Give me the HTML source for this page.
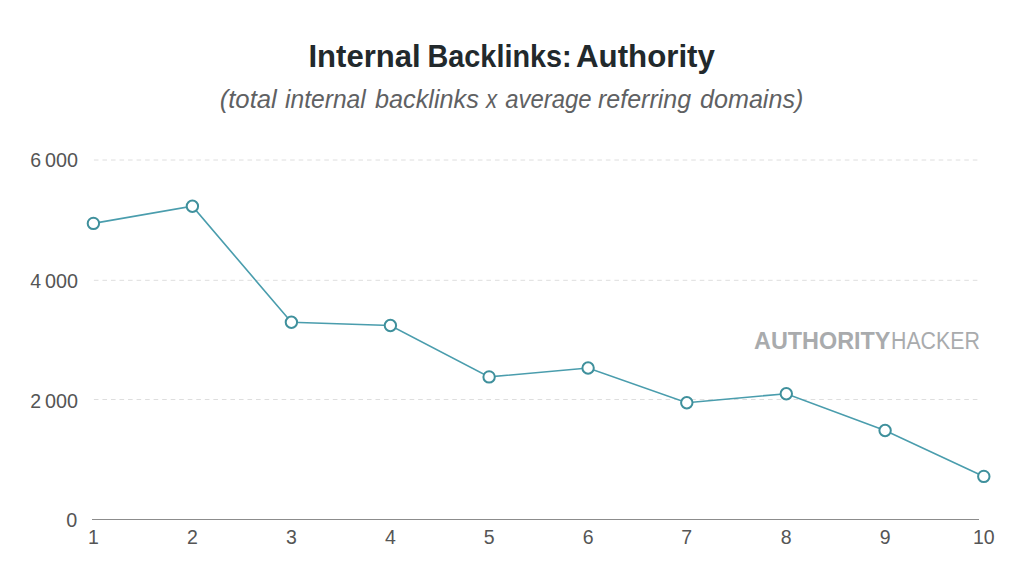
<!DOCTYPE html>
<html><head><meta charset="utf-8">
<style>
html,body{margin:0;padding:0;background:#fff;width:1024px;height:582px;overflow:hidden}
svg{display:block}
text{font-family:"Liberation Sans",sans-serif}
</style></head><body>
<svg width="1024" height="582" viewBox="0 0 1024 582">
<rect width="1024" height="582" fill="#fff"/>
<!-- title -->
<g font-size="32" font-weight="bold" fill="#22292c">
<text x="308.46" y="67.35" textLength="112.16" lengthAdjust="spacingAndGlyphs">Internal</text>
<text x="427.5" y="67.35" textLength="144.17" lengthAdjust="spacingAndGlyphs">Backlinks:</text>
<text x="576.07" y="67.35" textLength="138.83" lengthAdjust="spacingAndGlyphs">Authority</text>
</g>
<g font-size="26" font-style="italic" fill="#5f6163">
<text x="219.66" y="107.6" textLength="57.16" lengthAdjust="spacingAndGlyphs">(total</text>
<text x="285.06" y="107.6" textLength="80.66" lengthAdjust="spacingAndGlyphs">internal</text>
<text x="374.96" y="107.6" textLength="103.87" lengthAdjust="spacingAndGlyphs">backlinks</text>
<text x="486.05" y="107.6" textLength="11.11" lengthAdjust="spacingAndGlyphs">x</text>
<text x="505.24" y="107.6" textLength="86.35" lengthAdjust="spacingAndGlyphs">average</text>
<text x="598.02" y="107.6" textLength="93.06" lengthAdjust="spacingAndGlyphs">referring</text>
<text x="699.97" y="107.6" textLength="103.42" lengthAdjust="spacingAndGlyphs">domains)</text>
</g>
<!-- grid -->
<g stroke="#dedede" stroke-width="1" stroke-dasharray="4.6 3.933" fill="none">
<line x1="93.9" y1="160" x2="979" y2="160"/>
<line x1="93.9" y1="280.3" x2="979" y2="280.3"/>
<line x1="93.9" y1="399.5" x2="979" y2="399.5"/>
</g>
<line x1="92" y1="519.5" x2="979" y2="519.5" stroke="#8c8c8c" stroke-width="1.2"/>
<!-- y labels -->
<g font-size="19.5" fill="#555">
<text x="30.3" y="166.6">6</text><text x="45" y="166.6" textLength="33" lengthAdjust="spacingAndGlyphs">000</text>
<text x="30.3" y="287.9">4</text><text x="45" y="287.9" textLength="33" lengthAdjust="spacingAndGlyphs">000</text>
<text x="30.3" y="407.9">2</text><text x="45" y="407.9" textLength="33" lengthAdjust="spacingAndGlyphs">000</text>
<text x="66.3" y="526.7" textLength="11" lengthAdjust="spacingAndGlyphs">0</text>
</g>
<!-- x labels -->
<g font-size="19.5" fill="#555" text-anchor="middle">
<text x="93.4" y="544.1">1</text>
<text x="192.4" y="544.1">2</text>
<text x="291.4" y="544.1">3</text>
<text x="390.4" y="544.1">4</text>
<text x="489.1" y="544.1">5</text>
<text x="588.1" y="544.1">6</text>
<text x="686.8" y="544.1">7</text>
<text x="786.1" y="544.1">8</text>
<text x="885.1" y="544.1">9</text>
<text x="983.8" y="544.1">10</text>
</g>
<!-- watermark -->
<text x="754.09" y="348.7" font-size="23" font-weight="bold" fill="#a9abad" textLength="136.34" lengthAdjust="spacingAndGlyphs">AUTHORITY</text>
<text x="890.98" y="348.7" font-size="23" fill="#a9abad" textLength="88.95" lengthAdjust="spacingAndGlyphs">HACKER</text>
<!-- data -->
<polyline fill="none" stroke="#4a9dad" stroke-width="1.6" points="93.4,223.4 192.4,206.2 291.4,322.3 390.4,325.5 489.1,376.9 588.1,368 686.8,402.7 786.3,393.7 885.1,430.5 983.8,476.4"/>
<g fill="#fff" stroke="#3f909c" stroke-width="2">
<circle cx="93.4" cy="223.4" r="5.7"/>
<circle cx="192.4" cy="206.2" r="5.7"/>
<circle cx="291.4" cy="322.3" r="5.7"/>
<circle cx="390.4" cy="325.5" r="5.7"/>
<circle cx="489.1" cy="376.9" r="5.7"/>
<circle cx="588.1" cy="368" r="5.7"/>
<circle cx="686.8" cy="402.7" r="5.7"/>
<circle cx="786.3" cy="393.7" r="5.7"/>
<circle cx="885.1" cy="430.5" r="5.7"/>
<circle cx="983.8" cy="476.4" r="5.7"/>
</g>
</svg>
</body></html>
